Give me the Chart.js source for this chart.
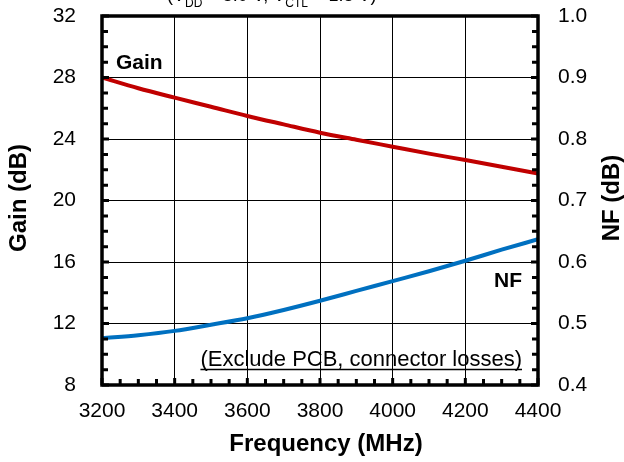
<!DOCTYPE html>
<html><head><meta charset="utf-8">
<script src="https://cdn.jsdelivr.net/npm/chart.js@4.4.1/dist/chart.umd.min.js"></script>
<style>html,body{margin:0;padding:0;background:#fff;}#wrap{width:624px;height:462px;}</style>
</head><body><div id="wrap"><canvas id="c" width="624" height="462"></canvas></div>
<script>
const frequencies = [3200,3300,3400,3500,3600,3700,3800,3900,4000,4100,4200,4300,4400];
const gainDb = [28.0,27.3,26.69,26.1,25.5,24.95,24.41,23.95,23.5,23.05,22.63,22.2,21.75];
const nfDb = [0.476,0.481,0.488,0.498,0.5085,0.522,0.537,0.553,0.569,0.585,0.602,0.620,0.637];
const xTicks = [3200,3400,3600,3800,4000,4200,4400];
const gainTicks = [8,12,16,20,24,28,32];
const nfTicks = [0.4,0.5,0.6,0.7,0.8,0.9,1.0];

const FONT = "'Liberation Sans', Arial, sans-serif";

const decor = {
  id: 'decor',
  afterDatasetsDraw(chart) {
    const ctx = chart.ctx;
    const a = chart.chartArea;
    const xs = chart.scales.x, ys = chart.scales.y;
    ctx.save();
    ctx.strokeStyle = '#000';
    ctx.fillStyle = '#000';
    // minor ticks
    ctx.lineWidth = 3;
    ctx.beginPath();
    for (let i = 0; i < gainTicks.length - 1; i++) {
      const step = (gainTicks[i+1] - gainTicks[i]) / 4;
      for (let k = 1; k < 4; k++) {
        const py = ys.getPixelForValue(gainTicks[i] + k * step);
        ctx.moveTo(a.left, py); ctx.lineTo(a.left + 6, py);
        ctx.moveTo(a.right, py); ctx.lineTo(a.right - 6, py);
      }
    }
    for (let i = 0; i < xTicks.length - 1; i++) {
      const step = (xTicks[i+1] - xTicks[i]) / 4;
      for (let k = 1; k < 4; k++) {
        const px = xs.getPixelForValue(xTicks[i] + k * step);
        ctx.moveTo(px, a.bottom); ctx.lineTo(px, a.bottom - 6);
      }
    }
    for (const v of xTicks) {
      const px = xs.getPixelForValue(v);
      ctx.moveTo(px, a.bottom); ctx.lineTo(px, a.bottom - 7);
    }
    for (const v of gainTicks) {
      const py = ys.getPixelForValue(v);
      ctx.moveTo(a.left, py); ctx.lineTo(a.left + 7, py);
      ctx.moveTo(a.right, py); ctx.lineTo(a.right - 7, py);
    }
    ctx.stroke();
    // border
    ctx.lineWidth = 3.5;
    ctx.strokeRect(a.left, a.top, a.right - a.left, a.bottom - a.top);

    // annotations
    ctx.font = "bold 21px " + FONT;
    ctx.textAlign = 'left';
    ctx.textBaseline = 'alphabetic';
    ctx.fillText('Gain', 116, 69);
    ctx.fillText('NF', 494, 287);

    ctx.font = "22px " + FONT;
    ctx.textAlign = 'right';
    const note = '(Exclude PCB, connector losses)';
    ctx.fillText(note, 522, 366);
    const w = ctx.measureText(note).width;
    ctx.lineWidth = 1.5;
    ctx.beginPath();
    ctx.moveTo(522 - w, 369.5); ctx.lineTo(522, 369.5);
    ctx.stroke();

    // axis titles
    ctx.font = "bold 24px " + FONT;
    ctx.textAlign = 'center';
    ctx.fillText('Frequency (MHz)', 326, 451);
    ctx.save();
    ctx.translate(26, 198);
    ctx.rotate(-Math.PI / 2);
    ctx.fillText('Gain (dB)', 0, 0);
    ctx.restore();
    ctx.save();
    ctx.translate(619, 198);
    ctx.rotate(-Math.PI / 2);
    ctx.fillText('NF (dB)', 0, 0);
    ctx.restore();

    // clipped top title
    ctx.textAlign = 'left';
    let x = 167;
    const parts = [['(V', 18, 1], ['DD', 12, 7], [' = 5.0 V, V', 18, 1], ['CTL', 12, 7], [' = 1.8 V)', 18, 1]];
    for (const [t, s, b] of parts) {
      ctx.font = s + "px " + FONT;
      ctx.fillText(t, x, b);
      x += ctx.measureText(t).width;
    }
    ctx.restore();
  }
};

function noVPad(s) { s.paddingTop = 0; s.paddingBottom = 0; }

new Chart(document.getElementById('c'), {
  type: 'line',
  data: {
    datasets: [
      { label: 'Gain', data: frequencies.map((f, i) => ({ x: f, y: gainDb[i] })), yAxisID: 'y',
        borderColor: '#c00000', borderWidth: 4, pointRadius: 0, tension: 0.4, cubicInterpolationMode: 'monotone', fill: false },
      { label: 'NF', data: frequencies.map((f, i) => ({ x: f, y: nfDb[i] })), yAxisID: 'y2',
        borderColor: '#0070c0', borderWidth: 4, pointRadius: 0, tension: 0.4, cubicInterpolationMode: 'monotone', fill: false }
    ]
  },
  options: {
    responsive: false,
    animation: false,
    devicePixelRatio: 1,
    layout: { padding: { top: 16, left: 0, right: 0, bottom: 0 } },
    plugins: { legend: { display: false }, tooltip: { enabled: false } },
    scales: {
      x: {
        type: 'linear', min: xTicks[0], max: xTicks[xTicks.length - 1],
        afterBuildTicks: s => { s.ticks = xTicks.map(v => ({ value: v })); },
        ticks: { color: '#000', font: { family: FONT, size: 21 }, padding: 14, maxRotation: 0, callback: v => String(v) },
        grid: { color: '#000', lineWidth: 1, drawTicks: false },
        border: { display: false },
        afterFit: s => { s.height = 77; s.paddingLeft = 0; s.paddingRight = 0; }
      },
      y: {
        position: 'left', min: gainTicks[0], max: gainTicks[gainTicks.length - 1],
        afterBuildTicks: s => { s.ticks = gainTicks.map(v => ({ value: v })); },
        ticks: { color: '#000', font: { family: FONT, size: 21 }, padding: 26, callback: v => String(v) },
        grid: { color: '#000', lineWidth: 1, drawTicks: false },
        border: { display: false },
        afterFit: s => { s.width = 102; noVPad(s); }
      },
      y2: {
        position: 'right', min: nfTicks[0], max: nfTicks[nfTicks.length - 1],
        afterBuildTicks: s => { s.ticks = nfTicks.map(v => ({ value: v })); },
        ticks: { color: '#000', font: { family: FONT, size: 21 }, padding: 20, callback: v => Number(v).toFixed(1) },
        grid: { display: false, drawTicks: false },
        border: { display: false },
        afterFit: s => { s.width = 86; noVPad(s); }
      }
    }
  },
  plugins: [decor]
});
</script></body></html>
